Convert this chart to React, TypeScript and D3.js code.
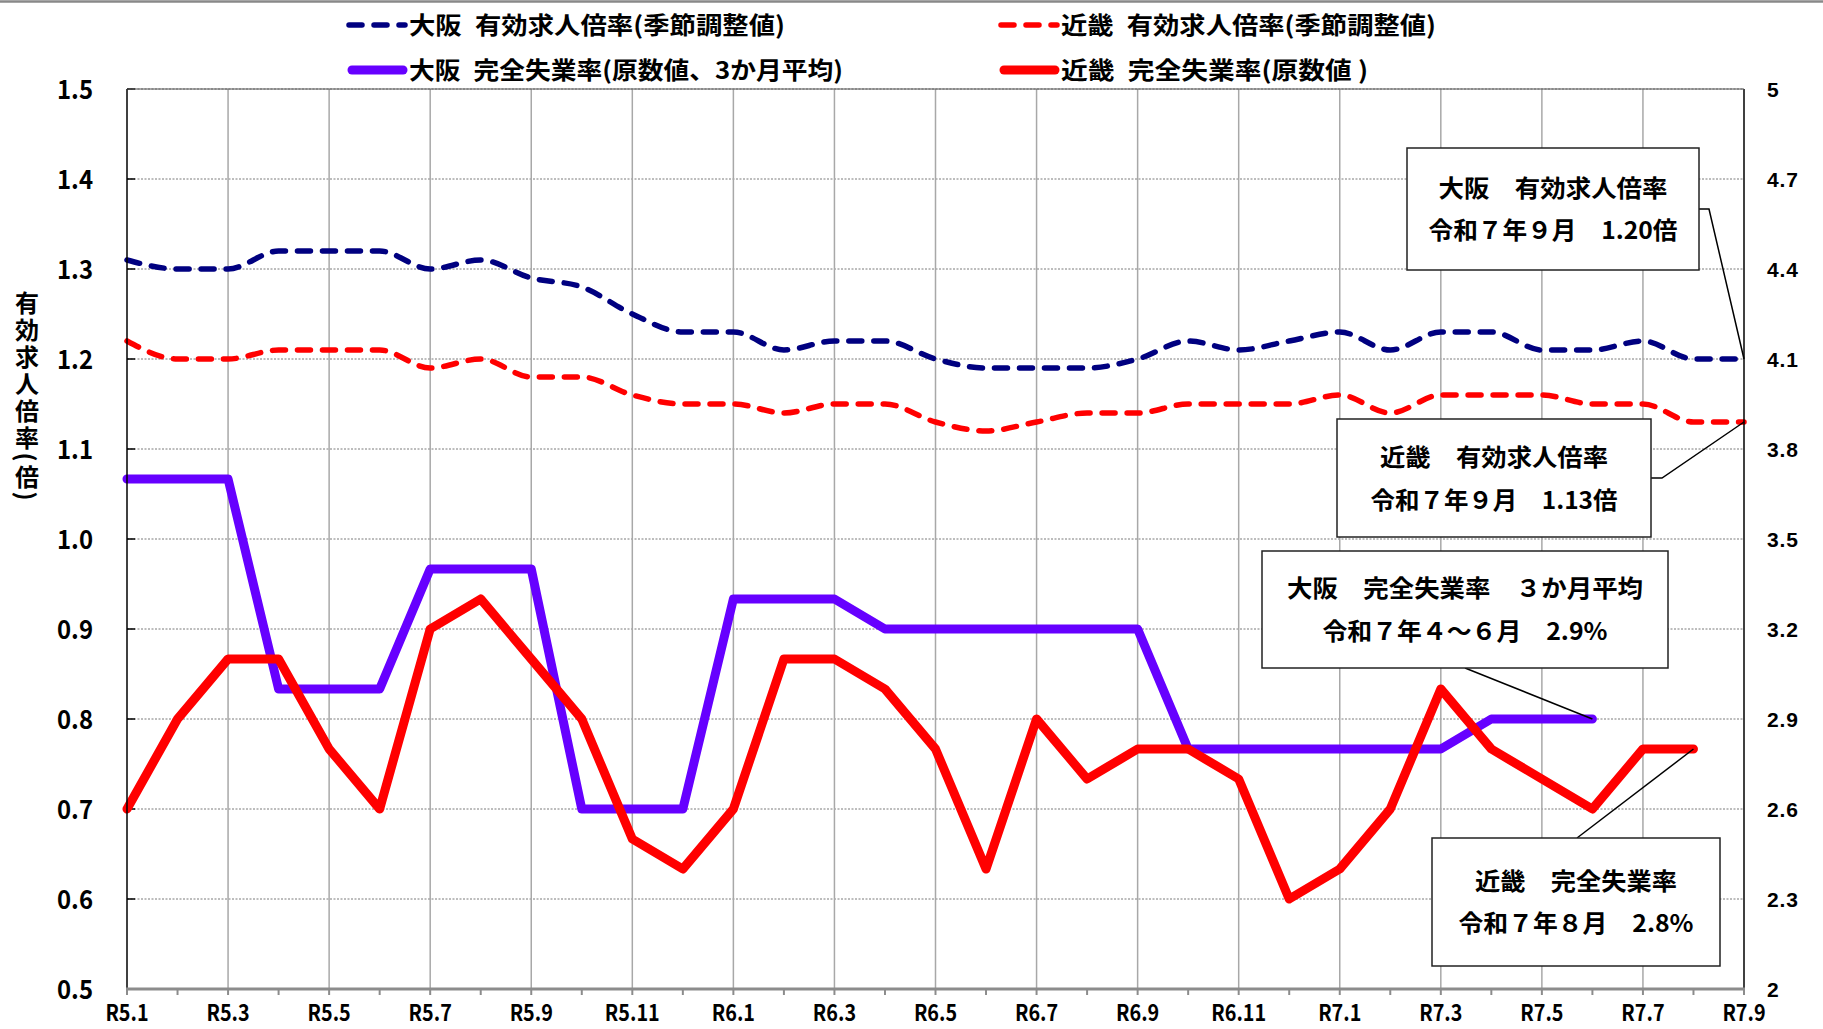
import React from 'react';
import * as d3 from 'd3';

// ---------------- DATA ----------------
const monthLabels = [
  'R5.1', 'R5.2', 'R5.3', 'R5.4', 'R5.5', 'R5.6', 'R5.7', 'R5.8', 'R5.9', 'R5.10', 'R5.11', 'R5.12',
  'R6.1', 'R6.2', 'R6.3', 'R6.4', 'R6.5', 'R6.6', 'R6.7', 'R6.8', 'R6.9', 'R6.10', 'R6.11', 'R6.12',
  'R7.1', 'R7.2', 'R7.3', 'R7.4', 'R7.5', 'R7.6', 'R7.7', 'R7.8', 'R7.9',
];

// 大阪 有効求人倍率(季節調整値) — left axis
const osakaRatio = [
  1.31, 1.30, 1.30, 1.32, 1.32, 1.32, 1.30, 1.31, 1.29, 1.28, 1.25, 1.23,
  1.23, 1.21, 1.22, 1.22, 1.20, 1.19, 1.19, 1.19, 1.20, 1.22, 1.21, 1.22,
  1.23, 1.21, 1.23, 1.23, 1.21, 1.21, 1.22, 1.20, 1.20,
];

// 近畿 有効求人倍率(季節調整値) — left axis
const kinkiRatio = [
  1.22, 1.20, 1.20, 1.21, 1.21, 1.21, 1.19, 1.20, 1.18, 1.18, 1.16, 1.15,
  1.15, 1.14, 1.15, 1.15, 1.13, 1.12, 1.13, 1.14, 1.14, 1.15, 1.15, 1.15,
  1.16, 1.14, 1.16, 1.16, 1.16, 1.15, 1.15, 1.13, 1.13,
];

// 大阪 完全失業率(原数値、3か月平均) — right axis
const osakaUnemp = [
  3.7, 3.7, 3.7, 3.0, 3.0, 3.0, 3.4, 3.4, 3.4, 2.6, 2.6, 2.6,
  3.3, 3.3, 3.3, 3.2, 3.2, 3.2, 3.2, 3.2, 3.2, 2.8, 2.8, 2.8,
  2.8, 2.8, 2.8, 2.9, 2.9, 2.9,
];

// 近畿 完全失業率(原数値) — right axis
const kinkiUnemp = [
  2.6, 2.9, 3.1, 3.1, 2.8, 2.6, 3.2, 3.3, 3.1, 2.9, 2.5, 2.4,
  2.6, 3.1, 3.1, 3.0, 2.8, 2.4, 2.9, 2.7, 2.8, 2.8, 2.7, 2.3,
  2.4, 2.6, 3.0, 2.8, 2.7, 2.6, 2.8, 2.8,
];

const leftTicks = [0.5, 0.6, 0.7, 0.8, 0.9, 1.0, 1.1, 1.2, 1.3, 1.4, 1.5];
const leftTickLabels = ['0.5', '0.6', '0.7', '0.8', '0.9', '1.0', '1.1', '1.2', '1.3', '1.4', '1.5'];
const rightTicks = [2, 2.3, 2.6, 2.9, 3.2, 3.5, 3.8, 4.1, 4.4, 4.7, 5];
const rightTickLabels = ['2', '2.3', '2.6', '2.9', '3.2', '3.5', '3.8', '4.1', '4.4', '4.7', '5'];

const legendLabels = [
  '大阪\u2002有効求人倍率(季節調整値)',
  '近畿\u2002有効求人倍率(季節調整値)',
  '大阪\u2002完全失業率(原数値、3か月平均)',
  '近畿\u2002完全失業率(原数値 )',
];

const yAxisTitle = '有効求人倍率(倍)';

const calloutTexts = [
  ['大阪　有効求人倍率', '令和７年９月　1.20倍'],
  ['近畿　有効求人倍率', '令和７年９月　1.13倍'],
  ['大阪　完全失業率　３か月平均', '令和７年４～６月　2.9%'],
  ['近畿　完全失業率', '令和７年８月　2.8%'],
];

// ---------------- LAYOUT ----------------
const W = 1823;
const H = 1029;
const P = { left: 127, right: 1744, top: 89, bottom: 989 };

const NAVY = '#000080';
const RED = '#FF0000';
const PURPLE = '#6600FF';
const FONT = "'Noto Sans CJK JP', 'Noto Sans', sans-serif";

export default function App() {
  const x = d3.scalePoint<string>().domain(monthLabels).range([P.left, P.right]).padding(0);
  const yL = d3.scaleLinear().domain([0.5, 1.5]).range([P.bottom, P.top]);
  const yR = d3.scaleLinear().domain([2, 5]).range([P.bottom, P.top]);

  const ratioLine = (data: number[]) =>
    d3
      .line<number>()
      .x((_, i) => x(monthLabels[i]) as number)
      .y((d) => yL(d))
      .curve(d3.curveMonotoneX)(data) || '';

  const unempLine = (data: number[]) =>
    d3
      .line<number>()
      .x((_, i) => x(monthLabels[i]) as number)
      .y((d) => yR(d))
      .curve(d3.curveLinear)(data) || '';

  const xi = (i: number) => x(monthLabels[i]) as number;

  const lastOR = osakaRatio.length - 1;
  const lastKR = kinkiRatio.length - 1;
  const lastOU = osakaUnemp.length - 1;
  const lastKU = kinkiUnemp.length - 1;

  // callout boxes (layout)
  const boxes = [
    { x0: 1407, y0: 148, x1: 1699, y1: 270, l1: 229, l2: 249, ty1: 188, ty2: 230 },
    { x0: 1337, y0: 419, x1: 1651, y1: 537, l1: 228, l2: 247, ty1: 457, ty2: 500 },
    { x0: 1262, y0: 551, x1: 1668, y1: 668, l1: 356, l2: 285, ty1: 588, ty2: 631 },
    { x0: 1432, y0: 838, x1: 1720, y1: 966, l1: 202, l2: 235, ty1: 881, ty2: 923 },
  ];

  const leaders = [
    `M1699,209 L1709,209 L${xi(lastOR)},${yL(osakaRatio[lastOR])}`,
    `M1651,478 L1662,478 L${xi(lastKR)},${yL(kinkiRatio[lastKR])}`,
    `M1465,668 L${xi(lastOU)},${yR(osakaUnemp[lastOU])}`,
    `M1577,838 L${xi(lastKU)},${yR(kinkiUnemp[lastKU])}`,
  ];

  const dash = '13 12';

  return (
    <div style={{ position: 'absolute', left: 0, top: 0, width: W, height: H, background: '#fff' }}>
      <svg width={W} height={H} viewBox={`0 0 ${W} ${H}`} style={{ display: 'block', fontFamily: FONT }}>
        <rect x={0} y={0} width={W} height={H} fill="#fff" />
        {/* top border */}
        <line x1={0} x2={W} y1={1.5} y2={1.5} stroke="#888" strokeWidth={2.5} />

        {/* horizontal gridlines */}
        {leftTicks.slice(1).map((t) => (
          <line key={'hg' + t} x1={P.left} x2={P.right} y1={yL(t)} y2={yL(t)} stroke="#7a7a7a" strokeWidth={1} strokeDasharray="2 1.5" />
        ))}
        {/* vertical gridlines */}
        {monthLabels.map((m, i) =>
          i % 2 === 0 && i > 0 && i < monthLabels.length - 1 ? (
            <line key={'vg' + m} x1={xi(i)} x2={xi(i)} y1={P.top} y2={P.bottom} stroke="#a8a8a8" strokeWidth={1.5} />
          ) : null
        )}

        {/* left axis inner ticks */}
        {leftTicks.slice(1).map((t) => (
          <line key={'lt' + t} x1={P.left} x2={P.left + 8} y1={yL(t)} y2={yL(t)} stroke="#000" strokeWidth={1.5} />
        ))}

        {/* series */}
        <path d={ratioLine(osakaRatio)} fill="none" stroke={NAVY} strokeWidth={5.5} strokeDasharray={dash} strokeLinecap="round" />
        <path d={ratioLine(kinkiRatio)} fill="none" stroke={RED} strokeWidth={5.5} strokeDasharray={dash} strokeLinecap="round" />
        <path d={unempLine(osakaUnemp)} fill="none" stroke={PURPLE} strokeWidth={9} strokeLinecap="round" strokeLinejoin="round" />
        <path d={unempLine(kinkiUnemp)} fill="none" stroke={RED} strokeWidth={9} strokeLinecap="round" strokeLinejoin="round" />

        {/* axes */}
        <line x1={P.left} x2={P.left} y1={P.top} y2={P.bottom} stroke="#000" strokeWidth={1.5} />
        <line x1={P.right} x2={P.right} y1={P.top} y2={P.bottom} stroke="#000" strokeWidth={1.5} />
        <line x1={P.left} x2={P.right} y1={P.top} y2={P.top} stroke="#555" strokeWidth={1} />
        <line x1={P.left - 1} x2={P.right + 1} y1={P.bottom} y2={P.bottom} stroke="#8c8c8c" strokeWidth={3} />
        {monthLabels.map((m, i) => (
          <line key={'xt' + m} x1={xi(i)} x2={xi(i)} y1={P.bottom} y2={P.bottom + 6} stroke="#8c8c8c" strokeWidth={2} />
        ))}

        {/* x labels (horizontally condensed) */}
        {monthLabels.map((m, i) =>
          i % 2 === 0 ? (
            <g key={'xl' + m} transform={`translate(${xi(i)},1021) scale(0.86,1)`}>
              <text x={0} y={0} textAnchor="middle" fontSize={23} fontWeight={700} fill="#000">
                {m}
              </text>
            </g>
          ) : null
        )}

        {/* left labels */}
        {leftTicks.map((t, i) => (
          <text key={'ll' + t} x={93} y={yL(t) + 9.5} textAnchor="end" fontSize={26} fontWeight={700} fill="#000"
            textLength={36} lengthAdjust="spacingAndGlyphs">
            {leftTickLabels[i]}
          </text>
        ))}

        {/* right labels */}
        {rightTicks.map((t, i) => (
          <text key={'rl' + t} x={1767} y={yR(t) + 7.5} textAnchor="start" fontSize={21} fontWeight={700} fill="#000"
            fontFamily="'Liberation Sans', Arial, sans-serif"
            {...(rightTickLabels[i].length > 1 ? { textLength: 31, lengthAdjust: 'spacing' } : {})}>
            {rightTickLabels[i]}
          </text>
        ))}

        {/* y axis title */}
        <text x={27} y={397} textAnchor="middle" fontSize={24} fontWeight={700} fill="#000"
          style={{ writingMode: 'vertical-rl', letterSpacing: '3px' } as any}>
          {yAxisTitle}
        </text>

        {/* legend */}
        <line x1={349} x2={405} y1={25} y2={25} stroke={NAVY} strokeWidth={5.5} strokeDasharray={dash} strokeLinecap="round" />
        <text x={409} y={34} fontSize={24} fontWeight={700} textLength={376} lengthAdjust="spacingAndGlyphs">{legendLabels[0]}</text>
        <line x1={1001} x2={1057} y1={25} y2={25} stroke={RED} strokeWidth={5.5} strokeDasharray={dash} strokeLinecap="round" />
        <text x={1061} y={34} fontSize={24} fontWeight={700} textLength={375} lengthAdjust="spacingAndGlyphs">{legendLabels[1]}</text>
        <line x1={352} x2={403} y1={70} y2={70} stroke={PURPLE} strokeWidth={9} strokeLinecap="round" />
        <text x={409} y={79} fontSize={24} fontWeight={700} textLength={434} lengthAdjust="spacingAndGlyphs">{legendLabels[2]}</text>
        <line x1={1004} x2={1055} y1={70} y2={70} stroke={RED} strokeWidth={9} strokeLinecap="round" />
        <text x={1061} y={79} fontSize={24} fontWeight={700} textLength={307} lengthAdjust="spacingAndGlyphs">{legendLabels[3]}</text>

        {/* callouts */}
        {leaders.map((d, i) => (
          <path key={'ld' + i} d={d} fill="none" stroke="#000" strokeWidth={1.5} />
        ))}
        {boxes.map((b, i) => {
          const cx = (b.x0 + b.x1) / 2;
          return (
            <g key={'bx' + i}>
              <rect x={b.x0} y={b.y0} width={b.x1 - b.x0} height={b.y1 - b.y0} fill="#fff" stroke="#222" strokeWidth={1.5} />
              <text x={cx} y={b.ty1 + 9} textAnchor="middle" fontSize={24} fontWeight={700} textLength={b.l1} lengthAdjust="spacingAndGlyphs">
                {calloutTexts[i][0]}
              </text>
              <text x={cx} y={b.ty2 + 9} textAnchor="middle" fontSize={24} fontWeight={700} textLength={b.l2} lengthAdjust="spacingAndGlyphs">
                {calloutTexts[i][1]}
              </text>
            </g>
          );
        })}
      </svg>
    </div>
  );
}
